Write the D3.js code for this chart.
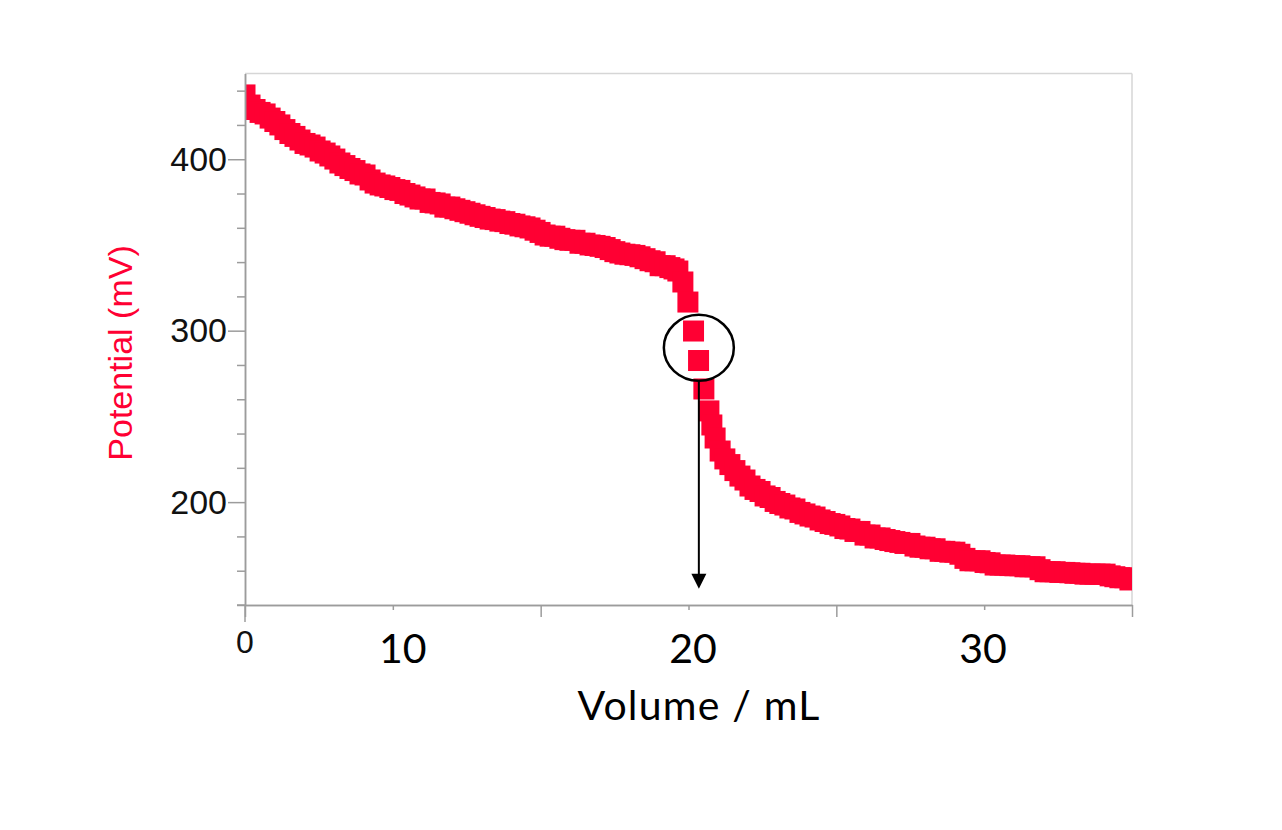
<!DOCTYPE html>
<html>
<head>
<meta charset="utf-8">
<script src="https://cdn.jsdelivr.net/npm/d3@7"></script>
<style>
body { margin: 0; background: #fff; }
</style>
</head>
<body>
<div id="chart"></div>
<script>
// titration curve (mL, mV)
var volume = [
  5.00, 5.17, 5.34, 5.51, 5.68, 5.85, 6.01, 6.18, 6.35, 6.52,
  6.69, 6.86, 7.03, 7.20, 7.37, 7.54, 7.71, 7.87, 8.04, 8.21,
  8.38, 8.55, 8.72, 8.89, 9.06, 9.23, 9.40, 9.57, 9.73, 9.90,
  10.07, 10.24, 10.41, 10.58, 10.75, 10.92, 11.09, 11.26, 11.43, 11.60,
  11.76, 11.93, 12.10, 12.27, 12.44, 12.61, 12.78, 12.95, 13.12, 13.29,
  13.46, 13.62, 13.79, 13.96, 14.13, 14.30, 14.47, 14.64, 14.81, 14.98,
  15.15, 15.32, 15.48, 15.65, 15.82, 15.99, 16.16, 16.33, 16.50, 16.67,
  16.84, 17.01, 17.18, 17.35, 17.51, 17.68, 17.85, 18.02, 18.19, 18.36,
  18.53, 18.70, 18.87, 19.04, 19.21, 19.37, 19.51, 19.64, 19.81, 19.98,
  20.17, 20.34, 20.52, 20.69, 20.79, 20.90, 21.07, 21.23, 21.40, 21.57,
  21.74, 21.91, 22.08, 22.25, 22.42, 22.59, 22.76, 22.93, 23.09, 23.26,
  23.43, 23.60, 23.77, 23.94, 24.11, 24.28, 24.45, 24.62, 24.79, 24.95,
  25.12, 25.29, 25.46, 25.63, 25.80, 25.97, 26.14, 26.31, 26.48, 26.65,
  26.81, 26.98, 27.15, 27.32, 27.49, 27.66, 27.83, 28.00, 28.17, 28.34,
  28.51, 28.67, 28.84, 29.01, 29.18, 29.35, 29.52, 29.69, 29.86, 30.03,
  30.20, 30.37, 30.54, 30.70, 30.87, 31.04, 31.21, 31.38, 31.55, 31.72,
  31.89, 32.06, 32.23, 32.40, 32.56, 32.73, 32.90, 33.07, 33.24, 33.41,
  33.58, 33.75, 33.92, 34.09, 34.26, 34.42, 34.59, 34.76, 34.93]
var potential = [
  437.5, 431.6, 429.0, 427.3, 426.4, 424.0, 422.0, 420.0, 417.3, 415.0,
  413.3, 411.2, 409.2, 408.3, 407.1, 404.8, 403.6, 401.9, 400.1, 397.8,
  396.3, 394.6, 393.4, 391.4, 390.8, 387.9, 386.1, 385.0, 384.4, 383.5,
  382.3, 381.8, 380.0, 379.1, 378.0, 376.8, 376.8, 374.8, 374.5, 373.9,
  372.1, 372.1, 371.1, 370.2, 369.4, 368.5, 367.6, 366.7, 366.0, 365.1,
  364.8, 363.9, 363.6, 362.5, 362.1, 361.1, 360.6, 359.9, 358.6, 357.3,
  355.8, 355.1, 355.1, 353.9, 353.1, 352.7, 352.7, 351.0, 351.0, 350.0,
  349.7, 349.2, 348.5, 347.3, 346.1, 345.3, 344.6, 344.3, 343.9, 343.1,
  342.0, 340.8, 340.2, 337.9, 337.9, 336.8, 336.0, 334.8, 328.4, 316.7,
  299.8, 282.6, 266.0, 253.2, 245.0, 237.4, 229.8, 225.2, 221.9, 218.4,
  215.2, 212.9, 209.4, 207.4, 206.2, 203.6, 202.7, 200.4, 199.2, 198.3,
  196.6, 196.0, 194.0, 193.1, 191.9, 191.3, 189.6, 188.7, 187.5, 187.0,
  186.1, 184.6, 184.3, 182.9, 182.9, 180.8, 180.8, 179.1, 179.1, 178.2,
  177.6, 177.0, 176.5, 175.9, 175.9, 174.4, 173.7, 173.7, 172.8, 172.8,
  171.3, 171.3, 170.8, 170.8, 169.6, 167.2, 165.8, 165.8, 165.8, 164.8,
  164.6, 163.3, 163.3, 163.3, 163.0, 162.9, 162.9, 162.3, 162.3, 162.3,
  160.6, 159.4, 159.4, 159.4, 159.0, 159.0, 158.8, 158.5, 158.5, 158.0,
  158.0, 158.0, 158.0, 158.0, 157.0, 156.5, 155.9, 155.9, 154.6]

var yMajor = [200, 300, 400]
var yMinor = [140, 160, 180, 220, 240, 260, 280, 320, 340, 360, 380, 420, 440]
var xMajor = [5, 15, 25, 35]
var xMinor = [10, 20, 30]
var xLabels = ['10', '20', '30']
var xLabelAt = [10.34, 20.15, 29.96]
var endpoint = { x: 20.35, y: 290 }
var arrowTo = 149.5

var w = 1282, h = 830
var red = '#ff0033', grey = '#9c9c9c'
var s = 21

var svg = d3.select('#chart').append('svg').attr('width', w).attr('height', h)
  .style('background-color', '#fff')

var x = d3.scaleLinear().domain([5, 35]).range([245, 1132])
var y = d3.scaleLinear().domain([140, 450]).range([605, 73.5])

// frame
svg.append('line').attr('x1', x(5)).attr('x2', x(35)).attr('y1', y(450)).attr('y2', y(450))
  .attr('stroke', '#d6d6d6').attr('stroke-width', 1.5)
svg.append('line').attr('x1', x(35)).attr('x2', x(35)).attr('y1', y(450)).attr('y2', y(140))
  .attr('stroke', '#d6d6d6').attr('stroke-width', 1.5)

svg.append('clipPath').attr('id', 'plot').append('rect')
  .attr('x', x(5)).attr('y', y(450)).attr('width', x(35) - x(5)).attr('height', y(140) - y(450))

svg.append('g').attr('clip-path', 'url(#plot)')
  .selectAll('rect').data(volume).enter().append('rect')
  .attr('x', function (d) { return x(d) - s / 2 })
  .attr('y', function (d, i) { return y(potential[i]) - s / 2 })
  .attr('width', s).attr('height', s)
  .attr('fill', red)

// axes
svg.append('g').attr('transform', 'translate(' + x(5) + ',0)')
  .call(d3.axisLeft(y).tickValues(yMinor).tickSize(8).tickSizeOuter(0).tickFormat(''))
var yMaj = svg.append('g').attr('transform', 'translate(' + x(5) + ',0)')
  .call(d3.axisLeft(y).tickValues(yMajor).tickSize(17).tickSizeOuter(0).tickPadding(1))
svg.append('g').attr('transform', 'translate(0,' + y(140) + ')')
  .call(d3.axisBottom(x).tickValues(xMinor).tickSize(5).tickSizeOuter(0).tickFormat(''))
svg.append('g').attr('transform', 'translate(0,' + y(140) + ')')
  .call(d3.axisBottom(x).tickValues(xMajor).tickSize(12).tickSizeOuter(0).tickFormat(''))

svg.selectAll('.domain').attr('stroke', grey).attr('stroke-width', 1.5)
svg.selectAll('.tick line').attr('stroke', grey).attr('stroke-width', 1.5)
yMaj.selectAll('text').attr('font-family', '"Liberation Sans", Arial, sans-serif')
  .attr('font-size', 34).attr('fill', '#111')
// the horizontal axis runs a little to the left, under the last minor tick
svg.append('line').attr('x1', x(5) - 8).attr('x2', x(5)).attr('y1', y(140)).attr('y2', y(140))
  .attr('stroke', grey).attr('stroke-width', 1.5)
svg.append('line').attr('x1', x(5)).attr('x2', x(5)).attr('y1', y(140)).attr('y2', y(140) + 17)
  .attr('stroke', grey).attr('stroke-width', 1.5)

svg.append('text').attr('x', x(5)).attr('y', 653).attr('text-anchor', 'middle')
  .attr('font-family', '"Liberation Sans", Arial, sans-serif').attr('font-size', 32).attr('fill', '#111')
  .text('0')

svg.selectAll('text.xl').data(xLabels).enter().append('text').attr('class', 'xl')
  .attr('x', function (d, i) { return x(xLabelAt[i]) }).attr('y', 663)
  .attr('text-anchor', 'middle').attr('font-family', 'Lato, sans-serif').attr('font-size', 41)
  .attr('fill', '#000').text(function (d) { return d })

svg.append('text').attr('x', 699).attr('y', 720).attr('text-anchor', 'middle')
  .attr('font-family', 'Lato, sans-serif').attr('font-size', 41).attr('letter-spacing', 1.2)
  .attr('fill', '#000').text('Volume / mL')

svg.append('text').attr('transform', 'translate(132,353) rotate(-90)').attr('text-anchor', 'middle')
  .attr('font-family', '"Liberation Sans", Arial, sans-serif').attr('font-size', 34).attr('fill', red)
  .text('Potential (mV)')

// end point marker
var ex = x(endpoint.x), ey = y(endpoint.y)
svg.append('ellipse').attr('cx', ex).attr('cy', ey).attr('rx', 35).attr('ry', 33)
  .attr('fill', 'none').attr('stroke', '#000').attr('stroke-width', 2.5)
svg.append('line').attr('x1', ex).attr('x2', ex).attr('y1', ey + 33).attr('y2', y(arrowTo) - 12)
  .attr('stroke', '#000').attr('stroke-width', 2)
svg.append('path')
  .attr('d', 'M' + (ex - 7.5) + ',' + (y(arrowTo) - 15) + 'L' + (ex + 7.5) + ',' + (y(arrowTo) - 15) + 'L' + ex + ',' + y(arrowTo) + 'Z')
  .attr('fill', '#000')
</script>
</body>
</html>
